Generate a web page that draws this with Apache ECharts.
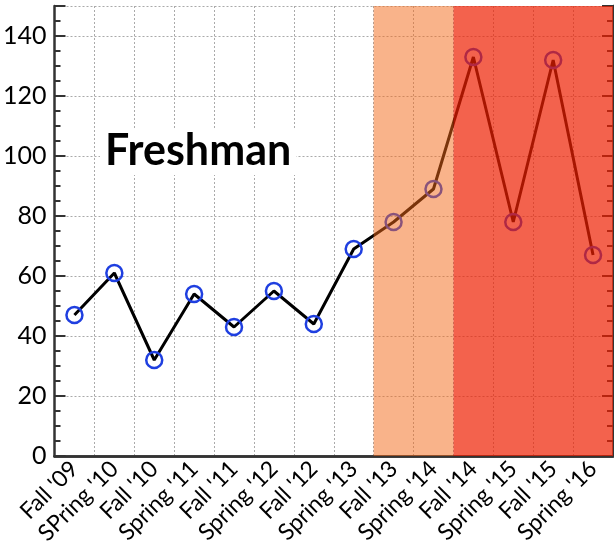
<!DOCTYPE html>
<html>
<head>
<meta charset="utf-8">
<script src="https://cdn.jsdelivr.net/npm/echarts@6/dist/echarts.min.js"></script>
<style>
  html, body { margin: 0; padding: 0; background: #fff; }
  #chart { width: 614px; height: 556px; }
</style>
</head>
<body>
<div id="chart"></div>
<script>
const terms = [
  "Fall '09", "SPring '10", "Fall '10", "Spring '11", "Fall '11", "Spring '12", "Fall '12",
  "Spring '13", "Fall '13", "Spring '14", "Fall '14", "Spring '15", "Fall '15", "Spring '16"
];
const counts = [47, 61, 32, 54, 43, 55, 44, 69, 78, 89, 133, 78, 132, 67];
// shaded spans: first and last term covered
const orangeSpan = ["Fall '13", "Spring '14"];
const redSpan = ["Fall '14", "Spring '16"];

const font = "Lato, 'DejaVu Sans', sans-serif";
const axisColor = "#333";

// band edges on a 0..n value axis laid over the category axis
function bandEdges(span) {
  return [terms.indexOf(span[0]), terms.indexOf(span[1]) + 1];
}
const orangeEdges = bandEdges(orangeSpan);
const redEdges = bandEdges(redSpan);

const chart = echarts.init(document.getElementById("chart"));

const option = {
  animation: false,
  title: {
    text: "Freshman",
    left: 100,
    top: 128,
    padding: [2, 5],
    backgroundColor: "#fff",
    textStyle: { fontFamily: font, fontWeight: "bold", fontSize: 43, color: "#000" },
  },
  grid: { left: 53, top: 6, right: 1, bottom: 100 },
  xAxis: [
    {
      type: "category",
      data: terms,
      boundaryGap: true,
      axisLine: { lineStyle: { color: axisColor, width: 2.5 } },
      axisTick: { inside: true, length: 9, lineStyle: { color: axisColor, width: 2 } },
      splitLine: { show: true, lineStyle: { color: "#aaa", type: [2, 2], width: 1 } },
      axisLabel: {
        rotate: 45,
        interval: 0,
        margin: 9,
        fontFamily: font,
        fontSize: 23,
        color: "#000",
      },
    },
    {
      type: "category",
      data: terms,
      position: "top",
      boundaryGap: true,
      axisLine: { lineStyle: { color: axisColor, width: 2.5 } },
      axisTick: { inside: true, length: 9, lineStyle: { color: axisColor, width: 2 } },
      axisLabel: { show: false },
      splitLine: { show: false },
    },
    {
      type: "value",
      min: 0,
      max: terms.length,
      show: false,
    },
  ],
  yAxis: [
    {
      type: "value",
      min: 0,
      max: 150,
      interval: 20,
      axisLine: { show: true, lineStyle: { color: axisColor, width: 2.5 } },
      axisTick: { inside: true, length: 11, lineStyle: { color: axisColor, width: 2 } },
      minorTick: { show: true, splitNumber: 4, length: 6, lineStyle: { color: axisColor, width: 2 } },
      splitLine: { show: true, lineStyle: { color: "#aaa", type: [2, 2], width: 1 } },
      axisLabel: { showMaxLabel: false, margin: 8, fontFamily: font, fontSize: 25, color: "#000" },
    },
    {
      type: "value",
      min: 0,
      max: 150,
      interval: 20,
      position: "right",
      axisLine: { show: true, lineStyle: { color: axisColor, width: 2.5 } },
      axisTick: { inside: true, length: 11, lineStyle: { color: axisColor, width: 2 } },
      minorTick: { show: true, splitNumber: 4, length: 6, lineStyle: { color: axisColor, width: 2 } },
      splitLine: { show: false },
      axisLabel: { show: false },
    },
  ],
  series: [
    {
      name: "Freshman",
      type: "line",
      data: counts,
      z: 2,
      symbol: "circle",
      symbolSize: 16,
      lineStyle: { color: "#000", width: 3 },
      itemStyle: { color: "rgba(0,0,0,0)", borderColor: "#1f3fe0", borderWidth: 2.5 },
    },
    {
      name: "shade",
      type: "line",
      xAxisIndex: 2,
      data: [],
      z: 20,
      silent: true,
      markArea: {
        silent: true,
        z: 20,
        data: [
          [
            { xAxis: orangeEdges[0], itemStyle: { color: "rgba(243,103,21,0.5)" } },
            { xAxis: orangeEdges[1] },
          ],
          [
            { xAxis: redEdges[0], itemStyle: { color: "rgba(238,31,2,0.7)" } },
            { xAxis: redEdges[1] },
          ],
        ],
      },
    },
  ],
};

chart.setOption(option);
</script>
</body>
</html>
